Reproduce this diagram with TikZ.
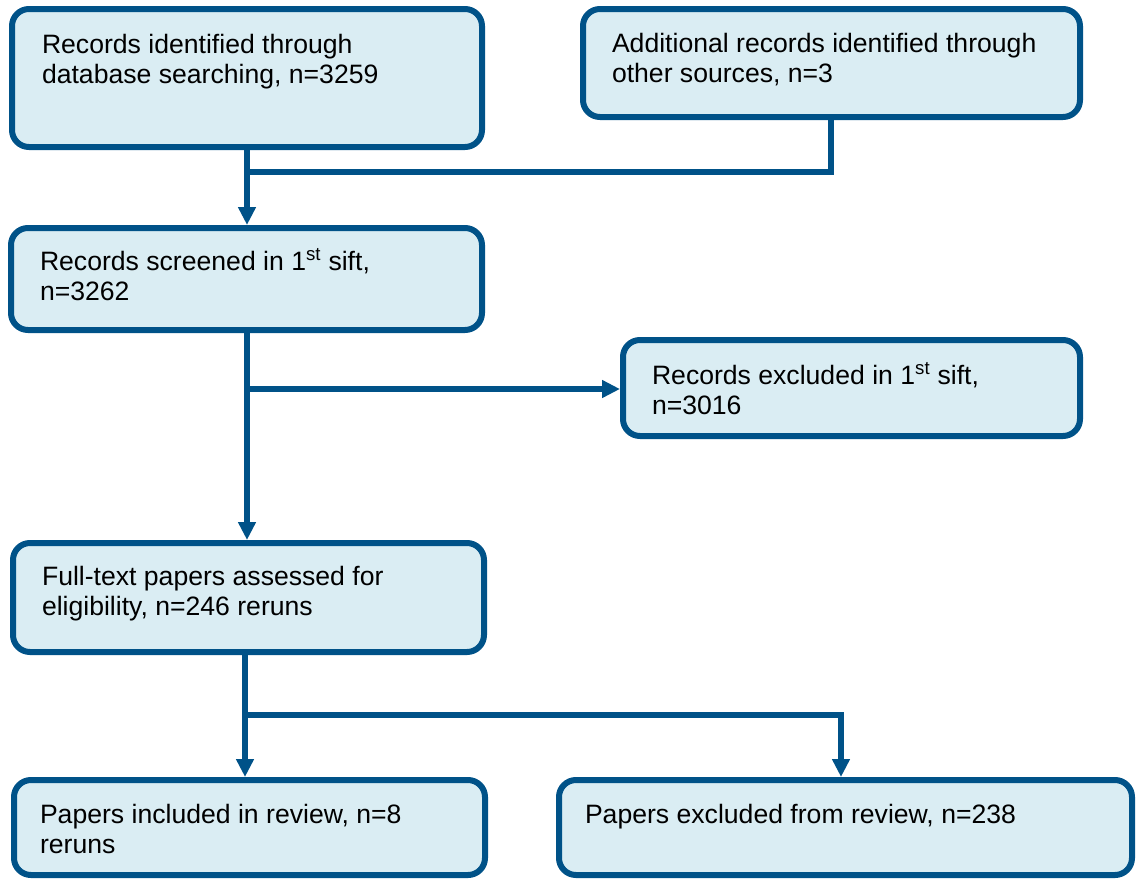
\documentclass[tikz,border=0pt]{standalone}
\usepackage{fontspec}
\setmainfont{Liberation Sans}
\usetikzlibrary{arrows.meta}
\definecolor{bordc}{RGB}{0,82,136}
\definecolor{fillc}{RGB}{218,237,243}
\tikzset{
  box/.style={draw=bordc, fill=fillc, line width=6pt, rounded corners=17pt, outer sep=3pt, inner sep=0pt, anchor=north west},
  txt/.style={anchor=base west, align=left, inner sep=0pt, outer sep=0pt, font=\fontsize{26.6}{30}\selectfont, text=black},
  conn/.style={draw=bordc, line width=5.5pt},
  arr/.style={conn, -{Triangle[width=17pt,length=18pt]}}
}
\begin{document}
\begin{tikzpicture}[x=1pt,y=-1pt]
\useasboundingbox (0,0) rectangle (1136,879);
% boxes (outer corner positions; sizes are centre-line sizes)
\node[box, minimum width=470pt, minimum height=138pt] (b1) at (9,6) {};
\node[box, minimum width=497pt, minimum height=108pt] (b2) at (580,6) {};
\node[box, minimum width=471pt, minimum height=102pt] (b3) at (8,225) {};
\node[box, minimum width=457pt, minimum height=96pt] (b5) at (620,337) {};
\node[box, minimum width=471pt, minimum height=109pt] (b4) at (10,540) {};
\node[box, minimum width=471pt, minimum height=95pt] (b6) at (11,777) {};
\node[box, minimum width=573pt, minimum height=95pt] (b7) at (556,777) {};
% texts (base anchor = baseline of the last line)
\node[txt] (t1) at (42,83) {Records identified through\\database searching, n=3259};
\node[txt] (t2) at (612,82) {Additional records identified through\\other sources, n=3};
\node[txt] (t3) at (40,300) {Records screened in 1\textsuperscript{st} sift,\\n=3262};
\node[txt] (t5) at (652,414) {Records excluded in 1\textsuperscript{st} sift,\\n=3016};
\node[txt] (t4) at (42,615) {Full-text papers assessed for\\eligibility, n=246 reruns};
\node[txt] (t6) at (40,853) {Papers included in review, n=8\\reruns};
\node[txt] (t7) at (585,823) {Papers excluded from review, n=238};
% connector helper coordinates
\coordinate (xa) at (247,0);
\coordinate (xb) at (245,0);
\coordinate (x2) at (831,0);
\coordinate (j1) at (247,172);
\coordinate (j2) at (247,389);
\coordinate (j3) at (245,715);
\coordinate (xk) at (841,0);
% connectors
\draw[arr] (b1.south -| xa) -- (b3.north -| xa);
\draw[conn] (b2.south -| x2) |- (j1);
\draw[arr] (b3.south -| xa) -- (b4.north -| xa);
\draw[arr] (j2) -- (b5.west |- j2);
\draw[arr] (b4.south -| xb) -- (b6.north -| xb);
\draw[arr] (j3) -| (b7.north -| xk);
\end{tikzpicture}
\end{document}
